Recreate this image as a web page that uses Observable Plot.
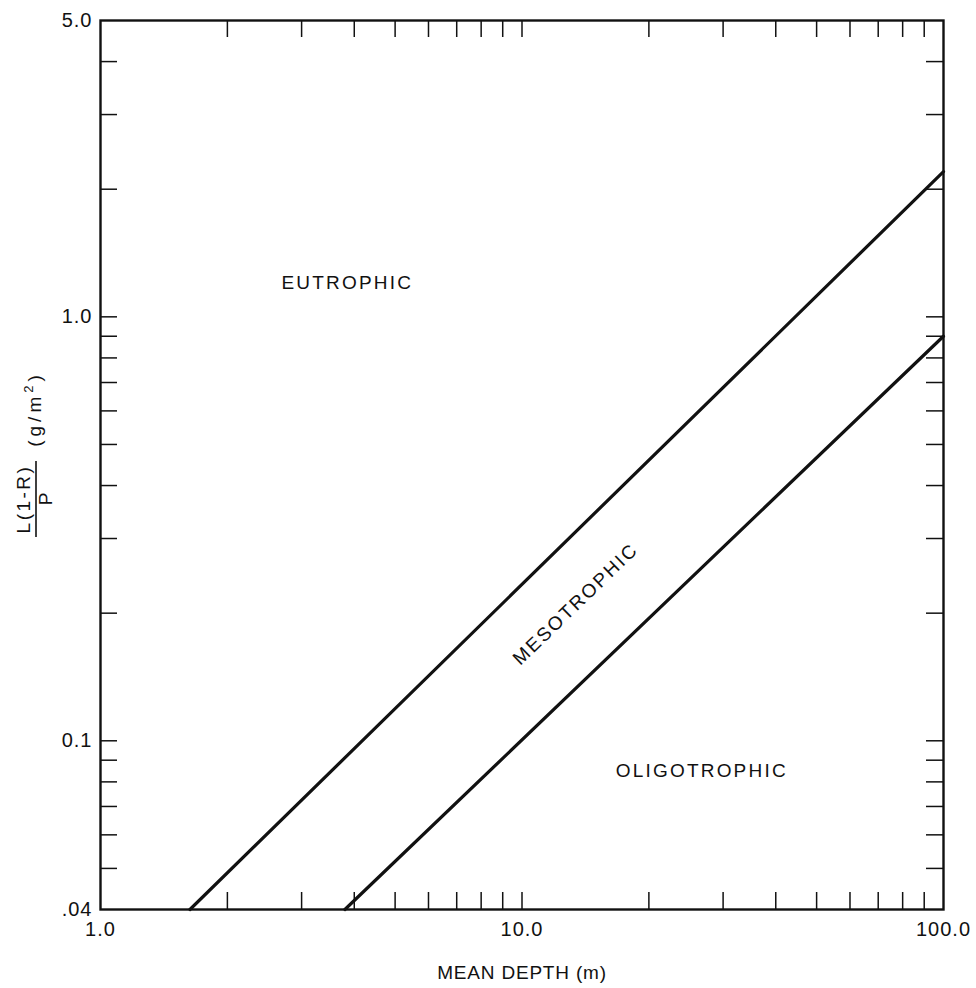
<!DOCTYPE html>
<html>
<head>
<meta charset="utf-8">
<script src="https://cdn.jsdelivr.net/npm/d3@7"></script>
<script src="https://cdn.jsdelivr.net/npm/@observablehq/plot@0.6"></script>
<style>
  html, body { margin: 0; padding: 0; background: #fff; }
  #chart svg { display: block; }
</style>
</head>
<body>
<div id="chart"></div>
<script>
// ---- data ----
const upperDepth = [1.63, 100];      // eutrophic / mesotrophic boundary
const upperLoad  = [0.04, 2.2];
const lowerDepth = [3.8, 100];       // mesotrophic / oligotrophic boundary
const lowerLoad  = [0.04, 0.9];

const xTickValues = [1, 10, 100];
const xTickLabels = ["1.0", "10.0", "100.0"];
const yTickValues = [0.04, 0.1, 1, 5];
const yTickLabels = [".04", "0.1", "1.0", "5.0"];

const xMinorTicks = [2, 3, 4, 5, 6, 7, 8, 9, 10, 20, 30, 40, 50, 60, 70, 80, 90];
const yMinorTicks = [0.05, 0.06, 0.07, 0.08, 0.09, 0.1, 0.2, 0.3, 0.4, 0.5, 0.6, 0.7, 0.8, 0.9, 1, 2, 3, 4];

const regionNames = ["EUTROPHIC", "MESOTROPHIC", "OLIGOTROPHIC"];
const regionDepth = [3.85, 13.4, 26.7];
const regionLoad  = [1.2, 0.21, 0.085];
const regionAngle = [0, -44, 0];

const xLabel = "MEAN DEPTH (m)";
const yLabelNumerator = "L(1-R)";
const yLabelDenominator = "P";
const yLabelUnitBase = "(g/m";
const yLabelUnitSup = "2";
const yLabelUnitEnd = ")";

// ---- layout ----
const W = 976, H = 988;
const mL = 100, mR = 33, mT = 20, mB = 79;
const innerW = W - mL - mR, innerH = H - mT - mB;
const tickLen = 17;
const ink = "#111";
const font = "'Liberation Sans', Arial, Helvetica, sans-serif";

const upper = upperDepth.map((d, i) => ({depth: d, load: upperLoad[i]}));
const lower = lowerDepth.map((d, i) => ({depth: d, load: lowerLoad[i]}));
const regions = regionNames.map((n, i) => ({name: n, depth: regionDepth[i], load: regionLoad[i], angle: regionAngle[i]}));

const plot = Plot.plot({
  width: W,
  height: H,
  marginLeft: mL,
  marginRight: mR,
  marginTop: mT,
  marginBottom: mB,
  style: {fontFamily: font, fontSize: "19px", color: ink, background: "#fff"},
  x: {type: "log", domain: [1, 100]},
  y: {type: "log", domain: [0.04, 5]},
  marks: [
    // inward tick marks on all four sides
    Plot.ruleY(yMinorTicks, {y: d => d, insetRight: innerW - tickLen, stroke: ink, strokeWidth: 1.5}),
    Plot.ruleY(yMinorTicks, {y: d => d, insetLeft: innerW - tickLen, stroke: ink, strokeWidth: 1.5}),
    Plot.ruleX(xMinorTicks, {x: d => d, insetTop: innerH - tickLen, stroke: ink, strokeWidth: 1.5}),
    Plot.ruleX(xMinorTicks, {x: d => d, insetBottom: innerH - tickLen, stroke: ink, strokeWidth: 1.5}),
    Plot.frame({stroke: ink, strokeWidth: 2.4}),
    Plot.axisX(xTickValues, {
      tickSize: 0, tickPadding: 12, label: null, fontSize: 20,
      tickFormat: d => xTickLabels[xTickValues.indexOf(d)]
    }),
    Plot.axisY(yTickValues, {
      tickSize: 0, tickPadding: 8, label: null, fontSize: 20,
      tickFormat: d => yTickLabels[yTickValues.indexOf(d)]
    }),
    Plot.line(upper, {x: "depth", y: "load", stroke: ink, strokeWidth: 3.2}),
    Plot.line(lower, {x: "depth", y: "load", stroke: ink, strokeWidth: 3.2}),
    Plot.text(regions, {
      x: "depth", y: "load", text: "name", rotate: "angle",
      fontSize: 19, fill: ink, textAnchor: "middle", lineAnchor: "middle"
    }),
    Plot.text([xLabel], {
      text: d => d, frameAnchor: "bottom", dy: 63, fontSize: 19, fill: ink,
      lineAnchor: "middle"
    })
  ]
});

document.getElementById("chart").appendChild(plot);

const svg = d3.select(plot);

// letter spacing for region labels, x label and tick labels
svg.selectAll("text").each(function() {
  const t = this.textContent;
  if (regionNames.includes(t)) d3.select(this).attr("letter-spacing", 2.2);
  else if (t === xLabel) d3.select(this).attr("letter-spacing", 0.8);
  else if (xTickLabels.includes(t) || yTickLabels.includes(t)) d3.select(this).attr("letter-spacing", 1);
});

// y-axis label as a rotated fraction
const g = svg.append("g")
  .attr("transform", "translate(36,499) rotate(-90)")
  .attr("font-family", font)
  .attr("font-size", 19)
  .attr("fill", ink);
g.append("text").attr("x", 0).attr("y", -6).attr("text-anchor", "middle")
  .attr("letter-spacing", 2.5).text(yLabelNumerator);
g.append("line").attr("x1", -38).attr("x2", 38).attr("y1", 0).attr("y2", 0)
  .attr("stroke", ink).attr("stroke-width", 1.6);
g.append("text").attr("x", 0).attr("y", 16).attr("text-anchor", "middle").text(yLabelDenominator);
const unit = g.append("text").attr("x", 90).attr("y", 5).attr("text-anchor", "middle").attr("letter-spacing", 4);
unit.append("tspan").text(yLabelUnitBase);
unit.append("tspan").attr("dy", -8).attr("font-size", 13).text(yLabelUnitSup);
unit.append("tspan").attr("dy", 8).text(yLabelUnitEnd);
</script>
</body>
</html>
